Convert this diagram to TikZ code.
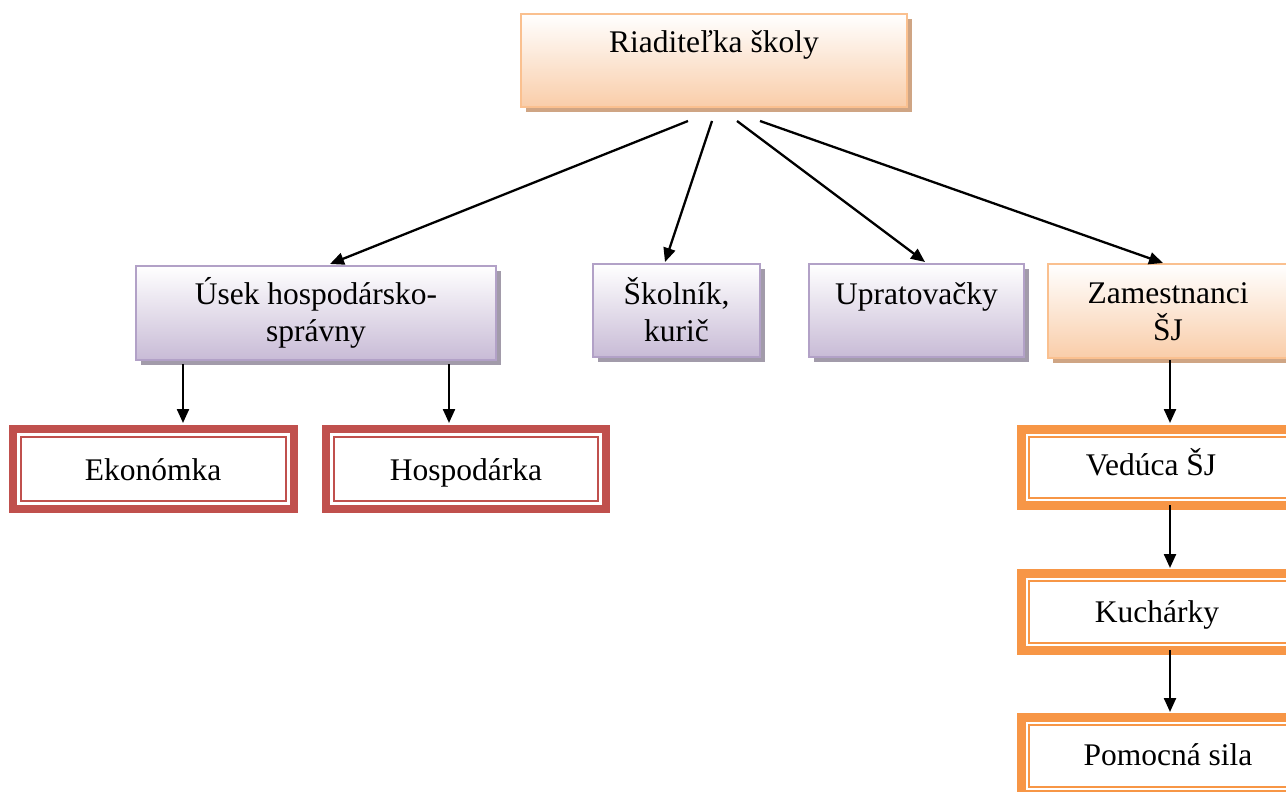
\documentclass[tikz,border=0pt]{standalone}
\usepackage{fontspec}
\setmainfont{Liberation Serif}
\usetikzlibrary{arrows.meta,shadows}
\definecolor{obord}{HTML}{FAC08F}
\definecolor{ofill}{HTML}{F9CDA9}
\definecolor{oshad}{HTML}{CFA584}
\definecolor{pbord}{HTML}{B2A1C7}
\definecolor{pfill}{HTML}{C8BBD6}
\definecolor{pshad}{HTML}{A29BAA}
\definecolor{redone}{HTML}{C0504D}
\definecolor{orgone}{HTML}{F79646}
\begin{document}
\begin{tikzpicture}[x=1pt,y=-1pt,
  txt/.style={font=\fontsize{31.5}{37}\selectfont, inner sep=0pt, anchor=base, align=center},
  obox/.style={draw=obord, line width=2pt, top color=white, bottom color=ofill, inner sep=0pt,
    drop shadow={shadow xshift=4.5pt, shadow yshift=-5pt, fill=oshad, opacity=1}},
  pbox/.style={draw=pbord, line width=2.2pt, top color=white, bottom color=pfill, inner sep=0pt,
    drop shadow={shadow xshift=4.5pt, shadow yshift=-5pt, fill=pshad, opacity=1}},
  rbox/.style={draw=redone, line width=7.8pt, fill=white, inner sep=0pt},
  gbox/.style={draw=orgone, line width=8.8pt, fill=white, inner sep=0pt},
  rin/.style={draw=redone, line width=2.2pt},
  gin/.style={draw=orgone, line width=2.2pt},
  arr/.style={line width=2.3pt, -{Triangle[length=14pt,width=12pt]}}
]
\useasboundingbox (0,0) rectangle (1286,792);
\begin{scope}
\clip (0,0) rectangle (1286,792);
% top
\node[obox, minimum width=386pt, minimum height=93pt] (dir) at (714,60.5) {};
\node[txt] (dirt) at (714,53) {Riaditeľka školy};
% second row
\node[pbox, minimum width=360pt, minimum height=94pt] (usek) at (316,313) {};
\node[txt] (usekt) at (316,341) {Úsek hospodársko-\\správny};
\node[pbox, minimum width=167pt, minimum height=93pt] (skol) at (676.5,310.5) {};
\node[txt] (skolt) at (676.5,341) {Školník,\\kurič};
\node[pbox, minimum width=215pt, minimum height=93pt] (uprat) at (916.5,310.5) {};
\node[txt] (upratt) at (916.5,304) {Upratovačky};
\node[obox, minimum width=240pt, minimum height=94pt] (zam) at (1168,311) {};
\node[txt] (zamt) at (1168,340) {Zamestnanci\\ŠJ};
% third row
\node[rbox, minimum width=281pt, minimum height=80pt] (eko) at (153.5,469) {};
\draw[rin] ([xshift=12pt,yshift=-12pt]eko.north west) rectangle ([xshift=-12pt,yshift=12pt]eko.south east);
\node[txt] (ekot) at (153,480) {Ekonómka};
\node[rbox, minimum width=280pt, minimum height=80pt] (hosp) at (466,469) {};
\draw[rin] ([xshift=12pt,yshift=-12pt]hosp.north west) rectangle ([xshift=-12pt,yshift=12pt]hosp.south east);
\node[txt] (hospt) at (466,480) {Hospodárka};
% canteen column
\node[gbox, minimum width=281pt, minimum height=76pt] (ved) at (1162,467.5) {};
\draw[gin] ([xshift=12pt,yshift=-12pt]ved.north west) rectangle ([xshift=-12pt,yshift=12pt]ved.south east);
\node[txt] (vedt) at (1151,475) {Vedúca ŠJ};
\node[gbox, minimum width=281pt, minimum height=77pt] (kuch) at (1162,612) {};
\draw[gin] ([xshift=12pt,yshift=-12pt]kuch.north west) rectangle ([xshift=-12pt,yshift=12pt]kuch.south east);
\node[txt] (kucht) at (1157,622) {Kuchárky};
\node[gbox, minimum width=281pt, minimum height=77pt] (pom) at (1162,756) {};
\draw[gin] ([xshift=12pt,yshift=-12pt]pom.north west) rectangle ([xshift=-12pt,yshift=12pt]pom.south east);
\node[txt] (pomt) at (1168,765) {Pomocná sila};
% connectors
\coordinate (s1) at (688,121); \coordinate (e1) at (330,264);
\coordinate (s2) at (712,121); \coordinate (e2) at (665,262);
\coordinate (s3) at (737,121); \coordinate (e3) at (925,262);
\coordinate (s4) at (760,121); \coordinate (e4) at (1163,263);
\draw[arr] (s1) -- (e1);
\draw[arr] (s2) -- (e2);
\draw[arr] (s3) -- (e3);
\draw[arr] (s4) -- (e4);
\coordinate (u1) at (183,364); \coordinate (u1e) at (183,423);
\coordinate (u2) at (449,364); \coordinate (u2e) at (449,423);
\draw[arr] (u1) -- (u1e);
\draw[arr] (u2) -- (u2e);
\coordinate (z1) at (1170,360); \coordinate (z1e) at (1170,423);
\coordinate (v1) at (1170,505); \coordinate (v1e) at (1170,568);
\coordinate (k1) at (1170,650); \coordinate (k1e) at (1170,712);
\draw[arr] (z1) -- (z1e);
\draw[arr] (v1) -- (v1e);
\draw[arr] (k1) -- (k1e);
\end{scope}
\end{tikzpicture}
\end{document}
